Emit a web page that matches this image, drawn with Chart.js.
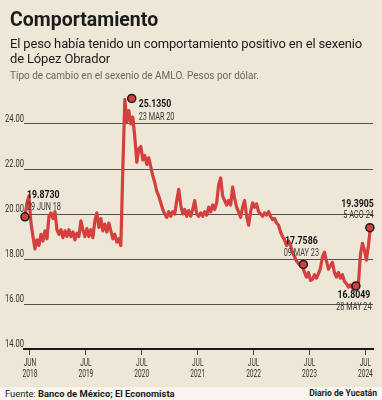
<!DOCTYPE html>
<html>
<head>
<meta charset="utf-8">
<script src="https://cdn.jsdelivr.net/npm/chart.js@4.4.1/dist/chart.umd.min.js"></script>
<style>
  html, body { margin: 0; padding: 0; }
  body {
    width: 382px; height: 400px; overflow: hidden; position: relative;
    background: #eee7d7; font-family: Roboto, 'Liberation Sans', sans-serif; color: #1b1b1b;
  }
  #title { position: absolute; left: 10px; top: 8px; font-weight: 700; font-size: 19.5px; line-height: 24px; z-index: 2; }
  #sub { position: absolute; left: 10px; top: 36px; font-size: 13px; line-height: 15px; letter-spacing: -0.15px; white-space: nowrap; z-index: 2; }
  #note {
    position: absolute; left: 10px; top: 68px; font-size: 11.5px; line-height: 14px; color: #6a6560;
    white-space: nowrap; transform: scaleX(0.87); transform-origin: left center; z-index: 2;
  }
  #wrap { position: absolute; left: 0; top: 0; width: 382px; height: 387px; }
  #footer {
    position: absolute; left: 0; top: 387px; width: 382px; height: 13px;
    background: #f8f5ee; font-size: 9.4px; line-height: 13px;
  }
  #footer .l { position: absolute; left: 5px; }
  #footer .r { position: absolute; right: 5px; font-weight: 700; font-size: 8.6px; }
</style>
</head>
<body>
<div id="title">Comportamiento</div>
<div id="sub">El peso había tenido un comportamiento positivo en el sexenio<br>de López Obrador</div>
<div id="note">Tipo de cambio en el sexenio de AMLO. Pesos por dólar.</div>
<div id="wrap"><canvas id="chart" width="382" height="387"></canvas></div>
<div id="footer"><span class="l">Fuente: <b>Banco de México; El Economista</b></span><span class="r">Diario de Yucatán</span></div>

<script>
// biweekly readings of the peso/dollar rate, first one at the end of June 2018
const startYear = 2018.411;
const stepYears = 1 / 28;
const rates = [
  19.90, 20.50, 20.80, 19.60, 19.00, 18.45, 18.85, 18.60, 19.10, 18.80,
  19.25, 18.90, 19.90, 20.05, 19.80, 20.10, 19.30, 19.10, 19.30, 18.95,
  19.25, 19.00, 19.30, 19.00, 19.20, 18.85, 19.15, 19.00, 19.70, 19.30,
  19.00, 19.35, 19.00, 19.30, 18.95, 19.70, 20.05, 19.40, 19.80, 19.25,
  19.55, 19.20, 19.60, 19.25, 18.90, 19.10, 18.75, 18.90, 18.60, 22.00,
  25.10, 24.10, 24.60, 24.00, 24.30, 23.40, 22.30, 22.90, 23.00, 22.40,
  22.60, 22.20, 22.50, 22.10, 21.70, 21.40, 21.00, 20.80, 20.50, 20.20,
  20.00, 19.85, 20.10, 19.90, 20.10, 20.00, 20.60, 21.10, 20.40, 20.00,
  20.20, 19.90, 20.15, 19.90, 20.20, 20.60, 20.00, 19.90, 20.05, 19.90,
  20.10, 19.95, 20.30, 20.10, 20.40, 20.20, 20.50, 21.30, 21.60, 20.80,
  20.60, 20.40, 20.60, 20.40, 21.20, 20.70, 20.30, 20.10, 19.85, 20.30,
  20.60, 19.90, 19.50, 20.10, 20.50, 20.30, 20.45, 20.10, 20.00, 19.90,
  20.05, 19.95, 20.10, 19.90, 19.75, 19.80, 19.60, 19.50, 19.20, 19.00,
  18.85, 18.60, 18.80, 18.60, 18.30, 18.10, 17.90, 17.80, 17.70, 17.65,
  17.40, 17.20, 17.40, 17.05, 17.10, 17.30, 17.15, 17.35, 17.60, 18.10,
  18.30, 17.90, 17.55, 17.70, 17.85, 17.40, 17.20, 17.40, 17.15, 17.30,
  17.00, 16.90, 16.75, 16.85, 16.70, 16.90, 16.80, 16.90, 18.20, 18.70,
  18.40, 17.95, 18.60, 19.39
];

// highlighted points
const markerYears = [2018.41, 2020.32, 2023.39, 2024.33, 2024.58];
const markerValues = [19.8730, 25.1350, 17.7586, 16.8049, 19.3905];
const markerDates = ['29 JUN 18', '23 MAR 20', '09 MAY 23', '28 MAY 24', '5 AGO 24'];

const yTicks = [14, 16, 18, 20, 22, 24];
const xTickYears = [2018.5, 2019.5, 2020.5, 2021.5, 2022.5, 2023.5, 2024.5];
const xTickLabels = [['JUN', '2018'], ['JUL', '2019'], ['JUL', '2020'], ['JUL', '2021'], ['JUL', '2022'], ['JUL', '2023'], ['JUL', '2024']];

// where each marker's text goes, relative to the dot
const markerTextPos = [
  { dx: 2, dyValue: -22, dyDate: -9, align: 'left' },
  { dx: 7, dyValue: 6, dyDate: 19, align: 'left' },
  { dx: -2, dyValue: -23, dyDate: -11, align: 'center' },
  { dx: -2, dyValue: 9, dyDate: 22, align: 'center' },
  { dx: 4, dyValue: -24, dyDate: -12, align: 'right' }
];

const RED = '#d3403d';
const FONT = "Roboto, 'Liberation Sans', sans-serif";

// the original uses a condensed face; squeeze a regular one horizontally
function narrowText(ctx, text, x, y, align, font, color, squeeze) {
  ctx.save();
  ctx.font = font;
  ctx.fillStyle = color;
  ctx.textAlign = 'left';
  ctx.textBaseline = 'middle';
  const w = ctx.measureText(text).width * squeeze;
  const left = align === 'left' ? x : align === 'right' ? x - w : x - w / 2;
  ctx.translate(left, y);
  ctx.scale(squeeze, 1);
  ctx.fillText(text, 0, 0);
  ctx.restore();
}

const axisText = {
  id: 'axisText',
  afterDraw(chart) {
    const { ctx, chartArea, scales: { x, y } } = chart;
    yTicks.forEach(v => {
      narrowText(ctx, v.toFixed(2), chartArea.left, y.getPixelForValue(v) - 4.5, 'right', '10px ' + FONT, '#333', 0.76);
    });
    xTickYears.forEach((t, i) => {
      const px = x.getPixelForValue(t);
      narrowText(ctx, xTickLabels[i][0], px, x.top + 14, 'center', '10.5px ' + FONT, '#333', 0.63);
      narrowText(ctx, xTickLabels[i][1], px, x.top + 25, 'center', '10.5px ' + FONT, '#333', 0.63);
    });
  }
};

const markerLabels = {
  id: 'markerLabels',
  afterDatasetsDraw(chart) {
    const { ctx, scales } = chart;
    markerValues.forEach((v, i) => {
      const px = scales.x.getPixelForValue(markerYears[i]);
      const py = scales.y.getPixelForValue(v);
      const pos = markerTextPos[i];
      narrowText(ctx, v.toFixed(4), px + pos.dx, py + pos.dyValue, pos.align, 'bold 11.5px ' + FONT, '#111', 0.76);
      narrowText(ctx, markerDates[i], px + pos.dx, py + pos.dyDate, pos.align, '10px ' + FONT, '#3a3a3a', 0.73);
    });
  }
};

new Chart(document.getElementById('chart'), {
  type: 'line',
  data: {
    datasets: [
      {
        type: 'scatter',
        data: markerYears.map((x, i) => ({ x, y: markerValues[i] })),
        pointRadius: 4,
        pointBackgroundColor: RED,
        pointBorderColor: '#1a1a1a',
        pointBorderWidth: 1.5,
        clip: false,
        order: 0
      },
      {
        data: rates.map((v, i) => ({ x: startYear + i * stepYears, y: v })),
        borderColor: RED,
        borderWidth: 3.2,
        borderJoinStyle: 'round',
        pointRadius: 0,
        tension: 0,
        clip: false,
        order: 1
      }
    ]
  },
  options: {
    responsive: false,
    devicePixelRatio: 1,
    animation: false,
    layout: { padding: { top: 97, right: 9, left: 0, bottom: 0 } },
    plugins: { legend: { display: false }, tooltip: { enabled: false } },
    scales: {
      x: {
        type: 'linear',
        min: 2018.393,
        max: 2024.636,
        afterBuildTicks: (axis) => { axis.ticks = xTickYears.map(value => ({ value })); },
        afterFit: (scale) => { scale.height = 38; },
        border: { display: true, color: '#1a1a1a', width: 2 },
        grid: { drawOnChartArea: false, drawTicks: true, tickLength: 6, color: '#444', lineWidth: 1 },
        ticks: { display: false }
      },
      y: {
        min: 14,
        max: 25.2,
        afterBuildTicks: (axis) => { axis.ticks = yTicks.map(value => ({ value })); },
        afterFit: (scale) => { scale.width = 24; },
        border: { display: false },
        grid: { drawTicks: false, color: '#55524d', lineWidth: 1 },
        ticks: { display: false }
      }
    }
  },
  plugins: [axisText, markerLabels]
});
</script>
</body>
</html>
